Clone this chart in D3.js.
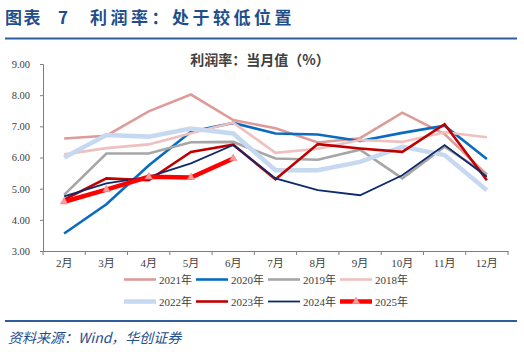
<!DOCTYPE html>
<html>
<head>
<meta charset="utf-8">
<script src="https://cdn.jsdelivr.net/npm/d3@7/dist/d3.min.js"></script>
<style>
  body { margin: 0; background: #fff; }
  svg { display: block; }
</style>
</head>
<body>
<div id="chart"></div>
<script>
// months on the x axis
const months = ['2月','3月','4月','5月','6月','7月','8月','9月','10月','11月','12月']
const yTicks = [3, 4, 5, 6, 7, 8, 9]

// monthly profit margin, one array per year
const y2021 = [6.61, 6.70, 7.48, 8.02, 7.20, 6.94, 6.48, 6.62, 7.44, 6.75, 5.45]
const y2020 = [3.56, 4.50, 5.74, 6.83, 7.11, 6.77, 6.74, 6.53, 6.79, 7.02, 5.95]
const y2019 = [4.80, 6.13, 6.13, 6.49, 6.50, 5.97, 5.93, 6.25, 5.33, 6.35, 5.45]
const y2018 = [6.10, 6.30, 6.42, 6.78, 7.12, 6.15, 6.28, 6.56, 6.50, 6.81, 6.65]
const y2022 = [6.00, 6.72, 6.67, 6.93, 6.77, 5.59, 5.59, 5.86, 6.34, 6.08, 4.95]
const y2023 = [4.65, 5.33, 5.27, 6.18, 6.41, 5.30, 6.43, 6.29, 6.18, 7.07, 5.27]
const y2024 = [4.75, 5.17, 5.38, 5.81, 6.40, 5.33, 4.95, 4.79, 5.43, 6.40, 5.38]
const y2025 = [4.58, 4.97, 5.38, 5.36, 5.97]

const series = [
    {name: '2021年', values: y2021, color: '#dd9c9a', w: 2.6},
    {name: '2020年', values: y2020, color: '#0a6cc0', w: 2.6},
    {name: '2019年', values: y2019, color: '#a6a6a6', w: 2.6},
    {name: '2018年', values: y2018, color: '#f0bfbf', w: 2.6},
    {name: '2022年', values: y2022, color: '#c6d9f1', w: 4.5},
    {name: '2023年', values: y2023, color: '#c00000', w: 2.6},
    {name: '2024年', values: y2024, color: '#0d2a6b', w: 1.8},
    {name: '2025年', values: y2025, color: '#ff0000', w: 4.5, marker: true}
]

const W = 524, H = 352
const margin = {top: 64, right: 16, bottom: 101, left: 43}
const width = W - margin.left - margin.right
const height = H - margin.top - margin.bottom

const svg = d3.select('#chart').append('svg')
    .attr('width', W)
    .attr('height', H)

const serif = '"Liberation Serif", "Times New Roman", "Noto Sans CJK SC", serif'
const cjk = '"Noto Sans CJK SC", sans-serif'

// page title and rules
function titleText(tx, str, spacing) {
    svg.append('text')
        .attr('x', tx).attr('y', 24)
        .style('font-family', cjk).style('font-weight', 'bold')
        .style('font-size', '17px').attr('fill', '#1f4e8c')
        .style('letter-spacing', spacing)
        .text(str)
}
titleText(5, '图表', '1.5px')
titleText(58, '7', '0px')
titleText(90, '利润率：处于较低位置', '3.5px')

svg.append('line')
    .attr('x1', 5).attr('x2', 517).attr('y1', 38.5).attr('y2', 38.5)
    .attr('stroke', '#2f5d9b').attr('stroke-width', 2)
svg.append('line')
    .attr('x1', 5).attr('x2', 517).attr('y1', 321).attr('y2', 321)
    .attr('stroke', '#2f5d9b').attr('stroke-width', 2)
svg.append('text')
    .attr('x', 8).attr('y', 343)
    .style('font-family', cjk).style('font-style', 'italic')
    .style('font-size', '14px').attr('fill', '#1f4e8c')
    .text('资料来源：Wind，华创证券')

// chart title
svg.append('text')
    .attr('x', 260).attr('y', 65)
    .attr('text-anchor', 'middle')
    .style('font-family', cjk).style('font-weight', 'bold')
    .style('font-size', '14px').attr('fill', '#404040')
    .text('利润率：当月值（%）')

const g = svg.append('g')
    .attr('transform', `translate(${margin.left},${margin.top})`)

// scales
const x = d3.scaleBand().domain(months).range([0, width]).padding(0)
const y = d3.scaleLinear().domain([3, 9]).range([height, 0])
const cx = d => x(d) + x.bandwidth() / 2

// y axis
const yAxis = g.append('g')
    .call(d3.axisLeft(y).tickValues(yTicks).tickFormat(d3.format('.2f')).tickSize(3).tickPadding(10))
yAxis.select('.domain').attr('stroke', '#7f7f7f')
yAxis.selectAll('.tick line').attr('stroke', '#7f7f7f')
yAxis.selectAll('text')
    .style('font-family', serif).style('font-size', '10.5px').attr('fill', '#404040')

// x axis: labels at band centres, ticks at band edges
const xAxis = g.append('g')
    .attr('transform', `translate(0,${height})`)
    .call(d3.axisBottom(x).tickSize(0).tickPadding(8))
xAxis.select('.domain').attr('stroke', '#7f7f7f')
xAxis.selectAll('text')
    .style('font-family', serif).style('font-size', '11px').attr('fill', '#404040')
g.append('g')
    .selectAll('line')
    .data(months.concat(['end']))
    .enter()
    .append('line')
    .attr('x1', (d, i) => i * x.step())
    .attr('x2', (d, i) => i * x.step())
    .attr('y1', height).attr('y2', height + 4)
    .attr('stroke', '#7f7f7f')

// lines
const line = d3.line()
    .x((d, i) => cx(months[i]))
    .y(d => y(d))

series.forEach(s => {
    g.append('path')
        .datum(s.values)
        .attr('fill', 'none')
        .attr('stroke', s.color)
        .attr('stroke-width', s.w)
        .attr('stroke-linejoin', 'miter')
        .attr('d', line)
    if (s.marker) {
        g.selectAll('.mk')
            .data(s.values)
            .enter()
            .append('path')
            .attr('d', d3.symbol().type(d3.symbolTriangle).size(24))
            .attr('transform', (d, i) => `translate(${cx(months[i])},${y(d)})`)
            .attr('fill', '#ff9a9a')
            .attr('stroke', '#f08080')
            .attr('stroke-width', 0.6)
    }
})

// legend, two rows of four
const legend = svg.append('g')
series.forEach((s, i) => {
    const lx = 124 + (i % 4) * 72
    const ly = 279.5 + Math.floor(i / 4) * 22
    const item = legend.append('g').attr('transform', `translate(${lx},${ly})`)
    item.append('line')
        .attr('x1', 0).attr('x2', 32).attr('y1', 0).attr('y2', 0)
        .attr('stroke', s.color).attr('stroke-width', s.w)
    if (s.marker) {
        item.append('path')
            .attr('d', d3.symbol().type(d3.symbolTriangle).size(24))
            .attr('transform', 'translate(16,0)')
            .attr('fill', '#ff9a9a')
            .attr('stroke', '#f08080')
            .attr('stroke-width', 0.6)
    }
    item.append('text')
        .attr('x', 35).attr('y', 4)
        .style('font-family', serif).style('font-size', '11px').attr('fill', '#404040')
        .text(s.name)
})
</script>
</body>
</html>
